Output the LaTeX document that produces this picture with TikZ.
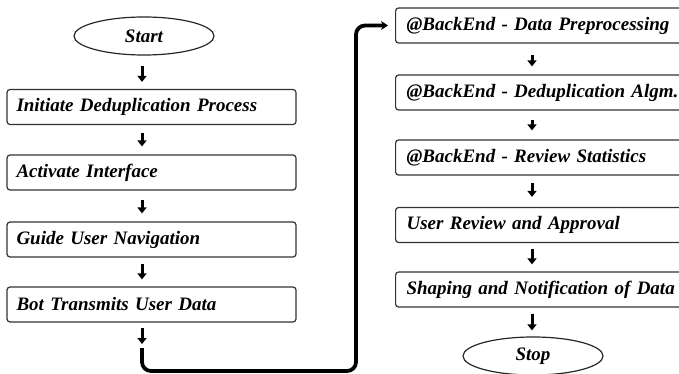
\documentclass[tikz,border=0pt]{standalone}
\usepackage{fontspec}
\setmainfont{Liberation Serif}
\usetikzlibrary{arrows.meta,shapes.geometric}
\begin{document}
\begin{tikzpicture}[x=1pt,y=-1pt,
  boxnode/.style={draw=black!80, line width=1.2pt, rounded corners=3pt,
    minimum width=289pt, minimum height=35pt, text width=270pt,
    inner xsep=9.5pt, align=left,
    font=\bfseries\itshape\fontsize{19}{22}\selectfont},
  rbox/.style={boxnode, text width=300pt, inner xsep=11pt},
  termnode/.style={ellipse, draw=black!85, line width=1.2pt,
    minimum width=140pt, minimum height=38pt, inner sep=0pt,
    font=\bfseries\itshape\fontsize{19}{22}\selectfont},
  arr/.style={line width=3pt, -{Triangle[length=6pt,width=9pt]}},
  link/.style={line width=3.8pt, rounded corners=9pt, -{Stealth[length=7pt,width=9pt]}}]
\useasboundingbox (0,0) rectangle (679,374);
\clip (0,0) rectangle (679,374);
\coordinate (colL) at (142,0);
\coordinate (colR) at (532,0);
\node[termnode] (start) at (144,36) {Start};
\node[boxnode] (b1) at (151.5,107) {Initiate Deduplication Process};
\node[boxnode] (b2) at (151.5,172.5) {Activate Interface};
\node[boxnode] (b3) at (151.5,239.5) {Guide User Navigation};
\node[boxnode] (b4) at (151.5,304.5) {Bot Transmits User Data};
\node[rbox, anchor=west] (r1) at (395,25.5) {@BackEnd - Data Preprocessing};
\node[rbox, anchor=west] (r2) at (395,92.5) {@BackEnd - Deduplication Algm.};
\node[rbox, anchor=west] (r3) at (395,157.5) {@BackEnd - Review Statistics};
\node[rbox, anchor=west] (r4) at (395,225) {User Review and Approval};
\node[rbox, anchor=west] (r5) at (395,289.5) {Shaping and Notification of Data};
\node[termnode] (stop) at (533,356) {Stop};
% left column arrows
\draw[arr] ([yshift=-10pt]colL |- start.south) -- ([yshift=7pt]colL |- b1.north);
\draw[arr] ([yshift=-8pt]colL |- b1.south) -- ([yshift=8pt]colL |- b2.north);
\draw[arr] ([yshift=-9pt]colL |- b2.south) -- ([yshift=8pt]colL |- b3.north);
\draw[arr] ([yshift=-6pt]colL |- b3.south) -- ([yshift=7pt]colL |- b4.north);
\coordinate (a5) at (142,344);
\draw[arr] ([yshift=-5pt]colL |- b4.south) -- (a5);
% connector to right column
\coordinate (c1) at (142,348);
\coordinate (turn) at (356,371);
\draw[link] (c1) |- (turn) |- ([xshift=-7pt]r1.west);
% right column arrows
\draw[arr] ([yshift=-11pt]colR |- r1.south) -- ([yshift=8pt]colR |- r2.north);
\draw[arr] ([yshift=-9pt]colR |- r2.south) -- ([yshift=9pt]colR |- r3.north);
\draw[arr] ([yshift=-7pt]colR |- r3.south) -- ([yshift=10pt]colR |- r4.north);
\draw[arr] ([yshift=-6pt]colR |- r4.south) -- ([yshift=7pt]colR |- r5.north);
\draw[arr] ([yshift=-6pt]colR |- r5.south) -- ([yshift=6pt]colR |- stop.north);
\end{tikzpicture}
\end{document}
